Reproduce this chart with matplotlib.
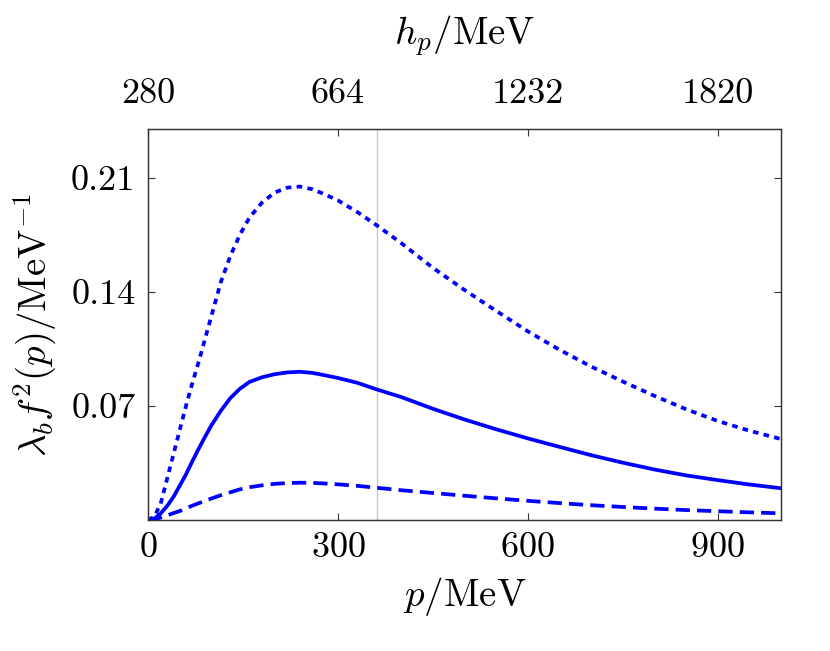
import numpy as np
import matplotlib
matplotlib.use("Agg")
import matplotlib.pyplot as plt

plt.rcParams['font.family'] = 'serif'
plt.rcParams['font.serif'] = ['cmr10']
plt.rcParams['mathtext.fontset'] = 'cm'
plt.rcParams['axes.formatter.use_mathtext'] = True

# values
p = [0, 10, 20, 30, 40, 50, 60, 70, 80, 90, 100, 115, 130, 145, 160, 180,
     200, 220, 240, 260, 280, 300, 330, 361, 400, 450, 500, 550, 600, 650,
     700, 750, 800, 850, 900, 950, 1000]
f_dotted = [0, 0.002, 0.010, 0.025, 0.040, 0.055, 0.070, 0.084, 0.097, 0.111,
            0.125, 0.146, 0.162, 0.175, 0.1855, 0.1948, 0.2010, 0.2040, 0.2047,
            0.2030, 0.1998, 0.1962, 0.1892, 0.1810, 0.1700, 0.1548, 0.1412,
            0.1284, 0.1158, 0.1045, 0.0942, 0.0850, 0.0762, 0.0680, 0.0608,
            0.0548, 0.0497]
f_solid = [0, 0.0008, 0.004, 0.0085, 0.014, 0.021, 0.028, 0.036, 0.0437, 0.051,
           0.058, 0.067, 0.0748, 0.0805, 0.0847, 0.0876, 0.0895, 0.0906, 0.0910,
           0.0903, 0.0888, 0.0872, 0.0843, 0.0802, 0.0755, 0.0683, 0.0617, 0.0557,
           0.0501, 0.0449, 0.0398, 0.0352, 0.0310, 0.0274, 0.0245, 0.0218, 0.0195]
f_dashed = [0, 0.0005, 0.0015, 0.0028, 0.0042, 0.0055, 0.0072, 0.0088, 0.0103,
            0.0118, 0.0132, 0.0152, 0.0170, 0.0188, 0.0201, 0.0213, 0.0222, 0.0227,
            0.0229, 0.0228, 0.0224, 0.0219, 0.0210, 0.0198, 0.0183, 0.0166, 0.0149,
            0.0133, 0.0118, 0.0104, 0.0091, 0.0080, 0.0070, 0.0061, 0.0054,
            0.0047, 0.0041]
p_mark = 361

x_ticks = [0, 300, 600, 900]
y_ticks = [0.07, 0.14, 0.21]
top_labels = ['280', '664', '1232', '1820']

fig = plt.figure(figsize=(8.3, 6.51), dpi=100)
ax = fig.add_axes([0.1783, 0.2012, 0.7627, 0.6006])

ax.axvline(p_mark, color='#c8c8c8', lw=1.0, zorder=1)
ax.plot(p, f_dotted, color='blue', lw=2.7, dashes=(1.5, 1.4), zorder=3)
ax.plot(p, f_solid, color='blue', lw=2.7, zorder=3)
ax.plot(p, f_dashed, color='blue', lw=2.7, dashes=(3.8, 1.9), zorder=3)

ax.set_xlim(0, 1000)
ax.set_ylim(0, 0.24)
ax.set_xticks(x_ticks)
ax.set_yticks(y_ticks)
ax.set_yticklabels(['0.07', '0.14', '0.21'])
ax.tick_params(direction='in', length=5, width=0.8, labelsize=26,
               top=False, right=True, pad=9, colors='#333333', labelcolor='black')
ax.set_xlabel(r'$p/\mathrm{MeV}$', fontsize=28, labelpad=8)
ax.set_ylabel(r'$\lambda_b f^2(p)/\mathrm{MeV}^{-1}$', fontsize=28, labelpad=9)

top = ax.twiny()
top.set_xlim(ax.get_xlim())
top.set_xticks(x_ticks)
top.set_xticklabels(top_labels)
top.tick_params(direction='in', length=5, width=0.8, labelsize=26, pad=14,
                colors='#333333', labelcolor='black')
top.set_xlabel(r'$h_p/\mathrm{MeV}$', fontsize=28, labelpad=24)

for a in (ax, top):
    for s in a.spines.values():
        s.set_linewidth(0.9)
        s.set_color('#333333')

fig.savefig('out.png', dpi=100)
